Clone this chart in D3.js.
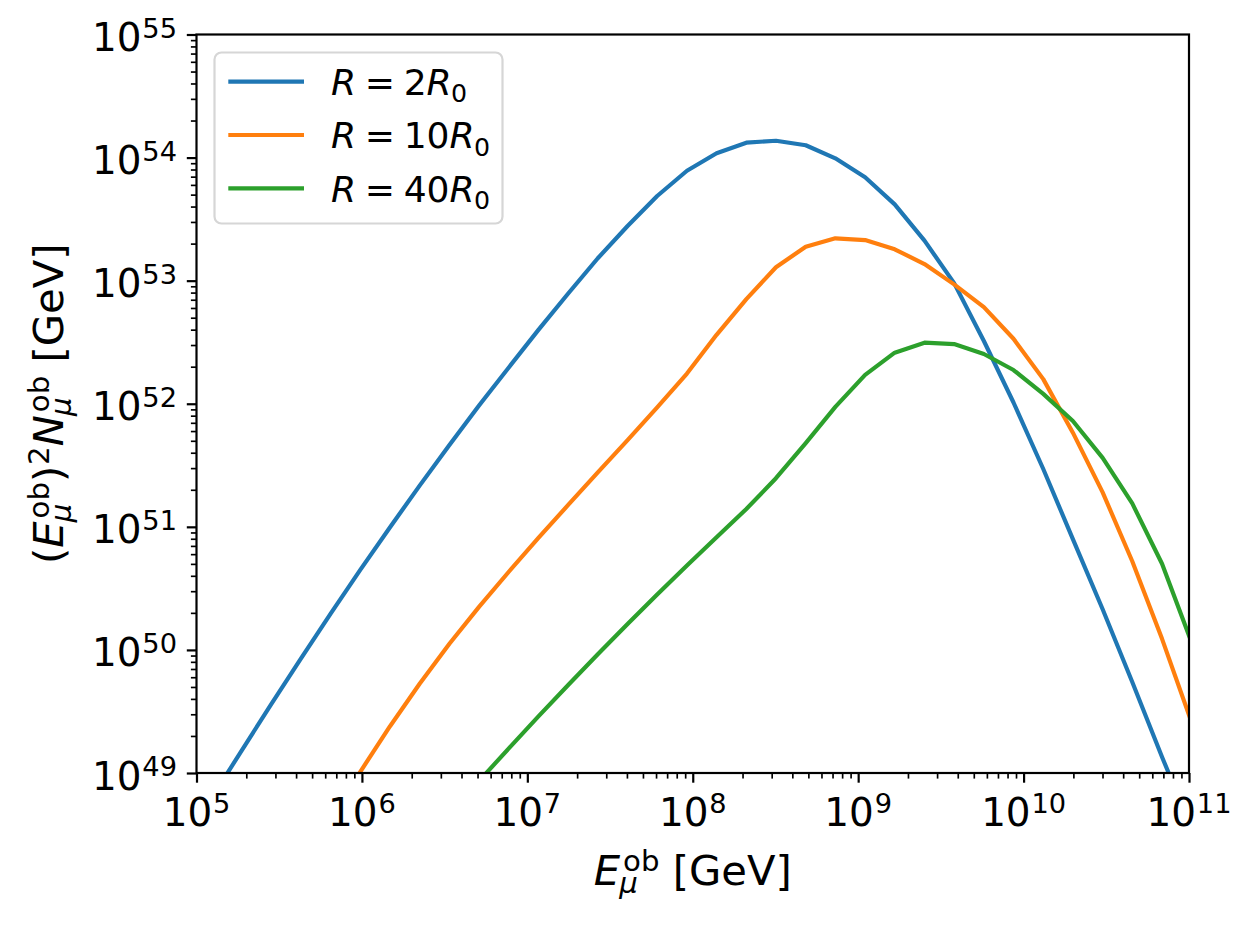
<!DOCTYPE html>
<html><head><meta charset="utf-8">
<script src="https://cdn.jsdelivr.net/npm/d3@7"></script>
<style>
body{margin:0;background:#fff}
svg{display:block}
text{font-family:"DejaVu Sans",sans-serif;fill:#000}
</style>
</head><body>
<svg id="chart" width="1251" height="926"></svg>
<script>
// ---- data (log10 values) ----
const logEnergy = [4.913, 5.093, 5.272, 5.452, 5.631, 5.811, 5.990, 6.170, 6.349, 6.529,
  6.708, 6.888, 7.067, 7.247, 7.426, 7.606, 7.785, 7.965, 8.144, 8.324,
  8.503, 8.683, 8.862, 9.042, 9.221, 9.401, 9.580, 9.760, 9.939, 10.119,
  10.298, 10.478, 10.657, 10.837, 11.016];
const logFluxR2 = [48.41, 48.80, 49.18, 49.56, 49.93, 50.295, 50.65, 50.997, 51.335, 51.665,
  51.985, 52.295, 52.60, 52.896, 53.182, 53.444, 53.688, 53.893, 54.035, 54.121,
  54.137, 54.10, 53.994, 53.84, 53.62, 53.325, 52.98, 52.51, 52.01, 51.47,
  50.90, 50.33, 49.74, 49.13, 48.55];
const logFluxR10 = [null, null, null, null, null, 48.64, 49.01, 49.38, 49.725, 50.05,
  50.35, 50.635, 50.91, 51.178, 51.443, 51.705, 51.97, 52.245, 52.56, 52.85,
  53.109, 53.276, 53.344, 53.330, 53.255, 53.135, 52.97, 52.785, 52.528, 52.20,
  51.765, 51.28, 50.72, 50.09, 49.41];
const logFluxR40 = [null, null, null, null, null, null, null, null, null, 48.67,
  48.935, 49.20, 49.46, 49.715, 49.965, 50.21, 50.45, 50.685, 50.915, 51.145,
  51.395, 51.68, 51.975, 52.235, 52.415, 52.496, 52.485, 52.404, 52.274, 52.08,
  51.86, 51.56, 51.19, 50.70, 50.06];
const seriesFactors = ["2", "10", "40"];
const seriesColors = ["#1f77b4", "#ff7f0e", "#2ca02c"];
const xTickExponents = ["5", "6", "7", "8", "9", "10", "11"];
const yTickExponents = ["49", "50", "51", "52", "53", "54", "55"];

// ---- layout ----
const L = 196.5, R = 1189, T = 34.5, B = 773;
const svg = d3.select("#chart");
const x = d3.scaleLog().domain([1e5, 1e11]).range([L, R]);
const y = d3.scaleLog().domain([1e49, 1e55]).range([B, T]);

const TICK_FS = 38.9, LABEL_FS = 41.7, LEG_FS = 36.1;

// math-like text: one <text> element, pieces laid out as positioned tspans
function mathText(parent, items, o) {
  const g = parent.append("g").attr("transform", `translate(${o.x},${o.y}) rotate(${o.rotate || 0})`);
  const text = g.append("text");
  const fs = o.fs, sfs = fs * 0.7;
  const spans = [];
  let cx = 0;
  function piece(str, px, py, size, italic) {
    const s = text.append("tspan").attr("x", px).attr("y", py)
      .attr("font-size", size).attr("font-style", italic ? "italic" : "normal").text(str);
    spans.push([s, px]);
    return s.node().getComputedTextLength();
  }
  for (const it of items) {
    if (it.gap) cx += it.gap * fs;
    let italic = false;
    if (it.t != null) {
      italic = !!it.it;
      cx += piece(it.t, cx, 0, fs, italic);
    }
    if (it.sup != null || it.sub != null) {
      let w = 0;
      if (it.sup != null) {
        const off = italic ? 0.07 * fs : 0.02 * fs;
        w = Math.max(w, off + piece(it.sup, cx + off, -0.345 * fs, sfs, false));
      }
      if (it.sub != null) {
        const off = italic ? -0.02 * fs : 0.01 * fs;
        w = Math.max(w, off + piece(it.sub, cx + off, 0.2 * fs, sfs, !!it.subIt));
      }
      cx += w;
    }
  }
  const shift = o.anchor === "middle" ? -cx / 2 : o.anchor === "end" ? -cx : 0;
  spans.forEach(([s, px]) => s.attr("x", px + shift));
  return g;
}

// clip
svg.append("defs").append("clipPath").attr("id", "plotclip")
  .append("rect").attr("x", L).attr("y", T).attr("width", R - L).attr("height", B - T);

// lines
const energies = logEnergy.map(v => Math.pow(10, v));
const allSeries = [logFluxR2, logFluxR10, logFluxR40];
const line = d3.line()
  .defined(d => d[1] != null)
  .x(d => x(d[0]))
  .y(d => y(Math.pow(10, d[1])));
const linesG = svg.append("g").attr("clip-path", "url(#plotclip)");
allSeries.forEach((s, i) => {
  linesG.append("path")
    .datum(energies.map((e, j) => [e, s[j]]))
    .attr("d", line)
    .attr("fill", "none")
    .attr("stroke", seriesColors[i])
    .attr("stroke-width", 4.17)
    .attr("stroke-linejoin", "round");
});

// axes ticks
const xMajor = xTickExponents.map(e => Math.pow(10, +e));
const yMajor = yTickExponents.map(e => Math.pow(10, +e));
const isMajor = v => Math.abs(Math.log10(v) - Math.round(Math.log10(v))) < 1e-9;
const xMinor = x.ticks(60).filter(v => !isMajor(v));
const yMinor = y.ticks(60).filter(v => !isMajor(v));

function styleAxis(g, w) {
  g.select(".domain").remove();
  g.selectAll(".tick line").attr("stroke", "#000").attr("stroke-width", w);
  g.selectAll(".tick text").remove();
}
svg.append("g").attr("transform", `translate(0,${B})`)
  .call(d3.axisBottom(x).tickValues(xMinor).tickSize(5.6).tickFormat(""))
  .call(g => styleAxis(g, 1.67));
svg.append("g").attr("transform", `translate(0,${B})`)
  .call(d3.axisBottom(x).tickValues(xMajor).tickSize(9.7).tickFormat(""))
  .call(g => styleAxis(g, 2.2));
svg.append("g").attr("transform", `translate(${L},0)`)
  .call(d3.axisLeft(y).tickValues(yMinor).tickSize(5.6).tickFormat(""))
  .call(g => styleAxis(g, 1.67));
svg.append("g").attr("transform", `translate(${L},0)`)
  .call(d3.axisLeft(y).tickValues(yMajor).tickSize(9.7).tickFormat(""))
  .call(g => styleAxis(g, 2.2));

// spines
svg.append("rect").attr("x", L).attr("y", T).attr("width", R - L).attr("height", B - T)
  .attr("fill", "none").attr("stroke", "#000").attr("stroke-width", 2.2);

// tick labels
xTickExponents.forEach((e, i) => {
  mathText(svg, [{ t: "10", sup: e }], { x: x(xMajor[i]), y: 826, fs: TICK_FS, anchor: "middle" });
});
yTickExponents.forEach((e, i) => {
  mathText(svg, [{ t: "10", sup: e }], { x: 177, y: y(yMajor[i]) + 16.5, fs: TICK_FS, anchor: "end" });
});

// axis labels
mathText(svg, [
  { t: "E", it: true, sup: "ob", sub: "μ", subIt: true },
  { gap: 0.318, t: "[GeV]" }
], { x: (L + R) / 2, y: 885, fs: LABEL_FS, anchor: "middle" });

mathText(svg, [
  { t: "(" },
  { t: "E", it: true, sup: "ob", sub: "μ", subIt: true },
  { t: ")", sup: "2" },
  { t: "N", it: true, sup: "ob", sub: "μ", subIt: true },
  { gap: 0.318, t: "[GeV]" }
], { x: 63, y: (T + B) / 2, fs: LABEL_FS, anchor: "middle", rotate: -90 });

// legend
const leg = svg.append("g");
leg.append("rect").attr("x", 214.5).attr("y", 52.5).attr("width", 288).attr("height", 171)
  .attr("rx", 7).attr("ry", 7)
  .attr("fill", "#fff").attr("fill-opacity", 0.8)
  .attr("stroke", "#d6d6d6").attr("stroke-width", 2.2);
seriesFactors.forEach((f, i) => {
  const ly = 81.7 + i * 53.3;
  leg.append("line").attr("x1", 228.3).attr("x2", 304).attr("y1", ly).attr("y2", ly)
    .attr("stroke", seriesColors[i]).attr("stroke-width", 4.17);
  mathText(leg, [
    { t: "R", it: true },
    { gap: 0.24, t: "=" },
    { gap: 0.24, t: f },
    { t: "R", it: true, sub: "0" }
  ], { x: 331, y: ly + 13.3, fs: LEG_FS, anchor: "start" });
});
</script>
</body></html>
